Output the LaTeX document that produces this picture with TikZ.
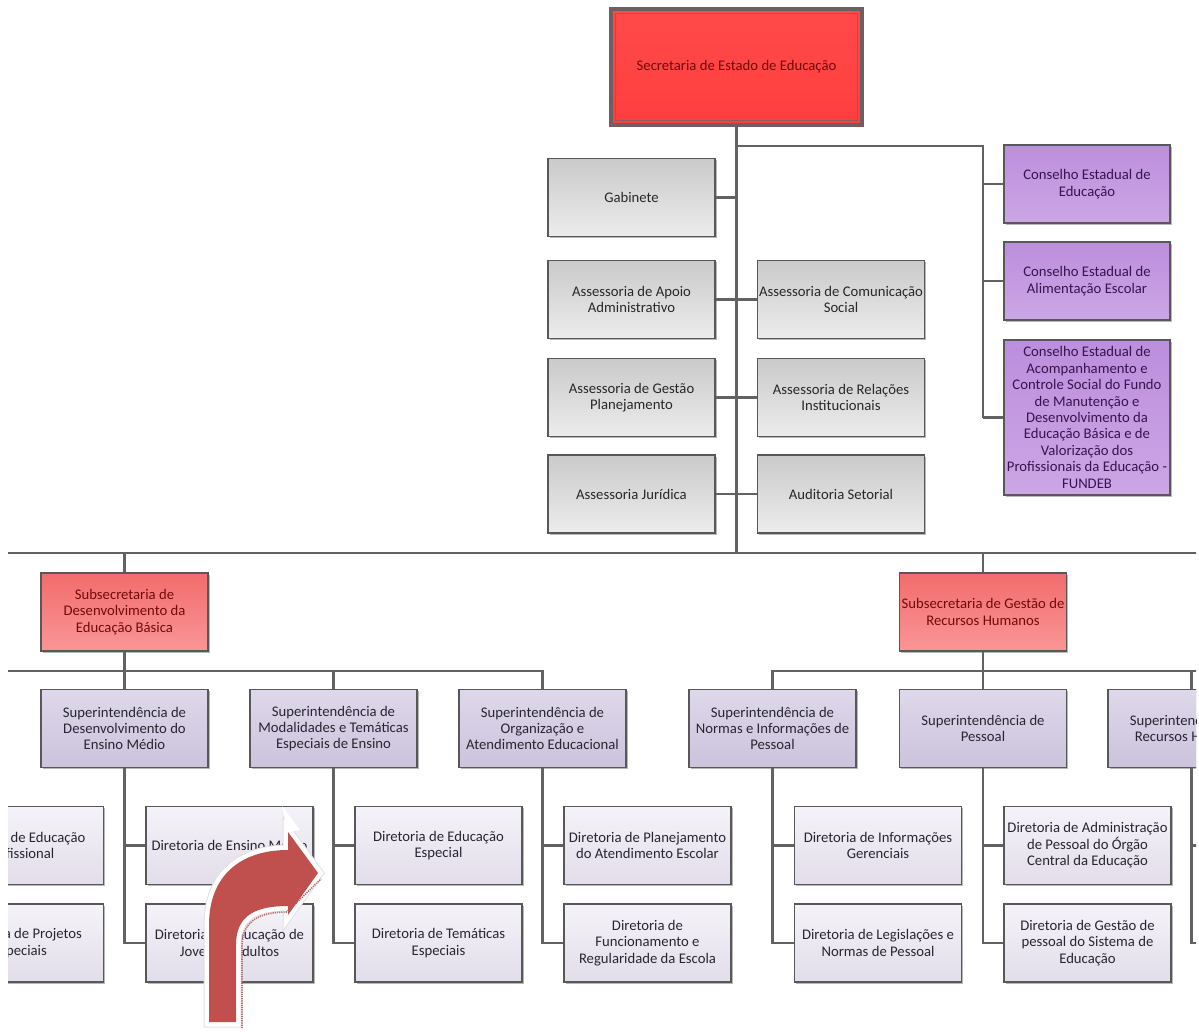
\documentclass[tikz,border=0pt]{standalone}
\usepackage{fontspec}
\setmainfont{Carlito}
\usetikzlibrary{shadows}
\definecolor{lineC}{RGB}{98,98,98}
\definecolor{boxline}{RGB}{88,88,88}
\definecolor{greyT}{RGB}{202,202,202}
\definecolor{greyB}{RGB}{236,236,236}
\definecolor{greyTxt}{RGB}{40,40,40}
\definecolor{purT}{RGB}{188,142,220}
\definecolor{purB}{RGB}{204,166,230}
\definecolor{purTxt}{RGB}{55,20,80}
\definecolor{secFill}{RGB}{255,74,74}
\definecolor{secFillB}{RGB}{255,62,62}
\definecolor{secOuter}{RGB}{110,96,96}
\definecolor{secInner}{RGB}{150,90,90}
\definecolor{redTxt}{RGB}{115,10,10}
\definecolor{subT}{RGB}{242,108,108}
\definecolor{subB}{RGB}{250,150,150}
\definecolor{supT}{RGB}{222,216,234}
\definecolor{supB}{RGB}{204,195,220}
\definecolor{dirT}{RGB}{245,243,249}
\definecolor{dirB}{RGB}{226,221,234}
\definecolor{lavTxt}{RGB}{40,38,50}
\definecolor{arrowRed}{RGB}{192,80,77}
\definecolor{arrowEdge}{RGB}{225,225,225}
\definecolor{arrowHatch}{RGB}{175,110,110}
\begin{document}
\begin{tikzpicture}[x=1pt,y=-1pt,
  box/.style={draw=boxline, line width=1.8pt, minimum width=167pt, minimum height=78pt,
    align=center, inner sep=0pt, font=\fontsize{14.7}{16.4}\selectfont,
    drop shadow={shadow xshift=1.8pt, shadow yshift=-1.8pt, opacity=0.28, fill=black}},
  greybox/.style={box, top color=greyT, bottom color=greyB, text=greyTxt},
  purbox/.style={box, minimum width=166pt, top color=purT, bottom color=purB, text=purTxt},
  subbox/.style={box, top color=subT, bottom color=subB, text=redTxt},
  supbox/.style={box, top color=supT, bottom color=supB, text=lavTxt},
  dirbox/.style={box, top color=dirT, bottom color=dirB, text=lavTxt},
  conn/.style={draw=lineC, line width=2.2pt}
]
\useasboundingbox (0,0) rectangle (1199,1032);
\clip (8,0) rectangle (1196,1032);

% top
\node[box, minimum width=251pt, minimum height=116pt, draw=secOuter, line width=3.5pt,
  top color=secFill, bottom color=secFillB, text=redTxt] (sec) at (736.5,67) {Secretaria de Estado de Educação};
\draw[secInner, line width=1.4pt] ([shift={(6,6)}]sec.north west) rectangle ([shift={(-6,-6)}]sec.south east);

% assessorias
\node[greybox] (gab)  at (631.5,197.5) {Gabinete};
\node[greybox] (aaa)  at (631.5,299.5) {Assessoria de Apoio\\Administrativo};
\node[greybox] (acs)  at (841,299.5)   {Assessoria de Comunicação\\Social};
\node[greybox] (agp)  at (631.5,397.5) {Assessoria de Gestão\\Planejamento};
\node[greybox] (ari)  at (841,397.5)   {Assessoria de Relações\\Institucionais};
\node[greybox] (ajur) at (631.5,494)   {Assessoria Jurídica};
\node[greybox] (aud)  at (841,494)     {Auditoria Setorial};

% conselhos
\node[purbox] (ce1) at (1087,184) {Conselho Estadual de\\Educação};
\node[purbox] (ce2) at (1087,281) {Conselho Estadual de\\Alimentação Escolar};
\node[purbox, minimum height=155pt] (ce3) at (1087,417.5) {Conselho Estadual de\\Acompanhamento e\\Controle Social do Fundo\\de Manutenção e\\Desenvolvimento da\\Educação Básica e de\\Valorização dos\\Profissionais da Educação -\\FUNDEB};

% subsecretarias
\node[subbox] (sub1) at (124.5,612) {Subsecretaria de\\Desenvolvimento da\\Educação Básica};
\node[subbox] (sub2) at (983,612) {Subsecretaria de Gestão de\\Recursos Humanos};

% superintendencias
\node[supbox] (sup1) at (124.5,728.5) {Superintendência de\\Desenvolvimento do\\Ensino Médio};
\node[supbox] (sup2) at (333.5,728.5) {Superintendência de\\Modalidades e Temáticas\\Especiais de Ensino};
\node[supbox] (sup3) at (542.5,728.5) {Superintendência de\\Organização e\\Atendimento Educacional};
\node[supbox] (sup4) at (772.5,728.5) {Superintendência de\\Normas e Informações de\\Pessoal};
\node[supbox] (sup5) at (983,728.5) {Superintendência de\\Pessoal};
\node[supbox] (sup6) at (1191.5,728.5) {Superintendência de\\Recursos Humanos};

% diretorias
\node[dirbox] (dL1) at (20,845.5) {Diretoria de Educação\\Profissional};
\node[dirbox] (dL2) at (20,943) {Diretoria de Projetos\\Especiais};
\node[dirbox] (d11) at (229.5,845.5) {Diretoria de Ensino Médio};
\node[dirbox] (d12) at (229.5,943) {Diretoria de Educação de\\Jovens e Adultos};
\node[dirbox] (d21) at (438.5,845.5) {Diretoria de Educação\\Especial};
\node[dirbox] (d22) at (438.5,943) {Diretoria de Temáticas\\Especiais};
\node[dirbox] (d31) at (647.5,845.5) {Diretoria de Planejamento\\do Atendimento Escolar};
\node[dirbox] (d32) at (647.5,943) {Diretoria de\\Funcionamento e\\Regularidade da Escola};
\node[dirbox] (d41) at (878,845.5) {Diretoria de Informações\\Gerenciais};
\node[dirbox] (d42) at (878,943) {Diretoria de Legislações e\\Normas de Pessoal};
\node[dirbox] (d51) at (1087.5,845.5) {Diretoria de Administração\\de Pessoal do Órgão\\Central da Educação};
\node[dirbox] (d52) at (1087.5,943) {Diretoria de Gestão de\\pessoal do Sistema de\\Educação};

% coordinates
\coordinate (trunkB) at (736.5,553);
\coordinate (pj) at (983,146);
\coordinate (busL) at (0,553);
\coordinate (busR) at (1199,553);
\coordinate (supL) at (0,671);
\coordinate (supR) at (1199,671);
\coordinate (r61) at (1199,845.5);
\coordinate (r62) at (1199,943);

% connectors top
\draw[conn] (sec.south) -- (trunkB);
\draw[conn] (sec.south |- pj) -- (pj) -- (pj |- ce3.west);
\draw[conn] (ce1.west -| pj) -- (ce1.west);
\draw[conn] (ce2.west -| pj) -- (ce2.west);
\draw[conn] (ce3.west -| pj) -- (ce3.west);
\draw[conn] (gab.east) -- (gab.east -| sec.south);
\draw[conn] (aaa.east) -- (acs.west);
\draw[conn] (agp.east) -- (ari.west);
\draw[conn] (ajur.east) -- (aud.west);

% buses
\draw[conn] (busL) -- (busR);
\draw[conn] (sub1.north |- busL) -- (sub1.north);
\draw[conn] (sub2.north |- busL) -- (sub2.north);
\draw[conn] (sub1.south) -- (sup1.north);
\draw[conn] (supL) -- (sup3.north |- supL) -- (sup3.north);
\draw[conn] (sup2.north |- supL) -- (sup2.north);
\draw[conn] (sub2.south) -- (sup5.north);
\draw[conn] (sup4.north) -- (sup4.north |- supL) -- (supR);
\draw[conn] (sup6.north |- supL) -- (sup6.north);

% diretoria connectors
\foreach \s/\a/\b in {sup1/d11/d12, sup2/d21/d22, sup3/d31/d32, sup4/d41/d42, sup5/d51/d52}{
  \draw[conn] (\s.south) |- (\b.west);
  \draw[conn] (\a.west -| \s.south) -- (\a.west);
}
\draw[conn] (sup6.south) -- (sup6.south |- r62) -- (r62);
\draw[conn] (r61 -| sup6.south) -- (r61);

% red curved arrow
\def\arrowpath{(209,1022) -- (209,925) .. controls (209,876) and (240,850) .. (288,850) -- (288,832) -- (318,873) -- (288,915) -- (288,906) .. controls (256,906) and (236,915) .. (236,945) -- (236,1022) -- cycle}
\draw[arrowEdge, line width=11pt, line join=miter] \arrowpath;
\draw[white, line width=9pt, line join=miter] \arrowpath;
\fill[white] (282,806) -- (300,830) -- (288,832) -- cycle;
\draw[arrowHatch, line width=1.6pt, dash pattern=on 1.2pt off 1pt] (242,1028) -- (242,946) .. controls (242,922) and (258,912) .. (287,912) -- (321,879);
\fill[arrowRed] \arrowpath;
\end{tikzpicture}
\end{document}
